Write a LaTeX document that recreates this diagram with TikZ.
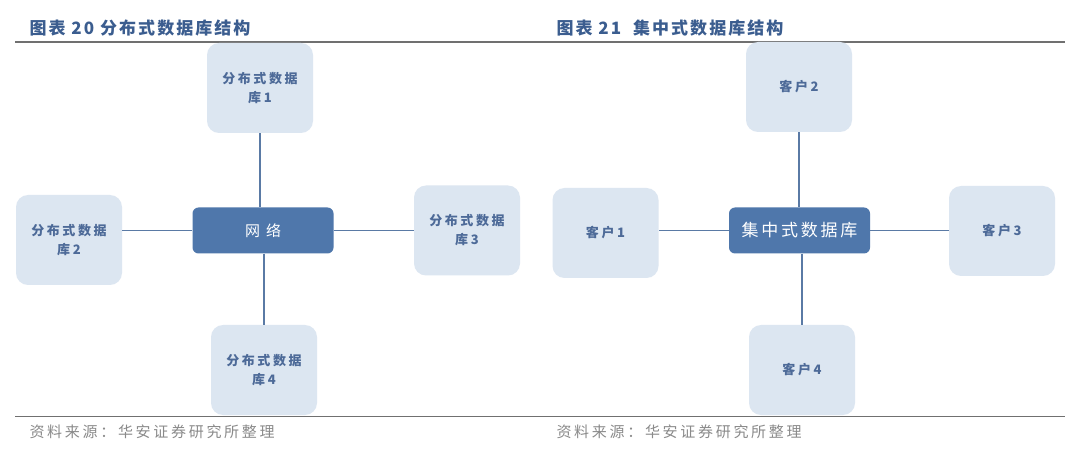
\documentclass[tikz,border=0pt]{standalone}
\usepackage{fontspec}
\setmainfont{Noto Sans CJK SC}
\usepackage{tikz}
\usetikzlibrary{positioning,calc}
\usepackage{xcolor}
\definecolor{boxLight}{HTML}{DCE6F1}
\definecolor{boxDark}{HTML}{4F77AB}
\definecolor{boxText}{HTML}{4D6A98}
\definecolor{titleBlue}{HTML}{3B5D8F}
\definecolor{linkBlue}{HTML}{5A7AA5}
\definecolor{ruleGray}{HTML}{707070}
\definecolor{noteGray}{HTML}{8A8A8A}

\begin{document}
\begin{tikzpicture}[x=1pt,y=-1pt,
  dbbox/.style={fill=boxLight,rounded corners=12pt,minimum width=106pt,minimum height=90pt,align=center,text=boxText,
    font=\bfseries\fontsize{13pt}{19pt}\selectfont\addfontfeatures{LetterSpace=20}},
  hub/.style={fill=boxDark,rounded corners=6pt,minimum width=141pt,minimum height=46pt,text=white},
  link/.style={linkBlue,line width=1.2pt},
  caption/.style={anchor=west,text=titleBlue,font=\bfseries\fontsize{17pt}{19pt}\selectfont\addfontfeatures{LetterSpace=12}},
  source/.style={anchor=west,text=noteGray,font=\fontsize{15pt}{17pt}\selectfont\addfontfeatures{LetterSpace=18}}]
  \useasboundingbox (0,0) rectangle (1080,449);
  \fill[white] (0,0) rectangle (1080,449);

  % titles and rules
  \node[caption] (titleA) at (26,28) {图表 20 分布式数据库结构};
  \node[caption] (titleB) at (553,28) {图表 21\ \ 集中式数据库结构};
  \draw[ruleGray,line width=1.2pt] (15,42) -- (1065,42);
  \draw[ruleGray,line width=1.2pt] (15,416.5) -- (1065,416.5);
  \node[source] (srcA) at (26,432) {资料来源：华安证券研究所整理};
  \node[source] (srcB) at (553,432) {资料来源：华安证券研究所整理};

  % distributed
  \node[hub,font=\fontsize{15pt}{17pt}\selectfont\addfontfeatures{LetterSpace=40}] (net) at (263,230.5) {网络};
  \node[dbbox] (db1) at (260,88) {分布式数据\\库1};
  \node[dbbox] (db2) at (69,240) {分布式数据\\库2};
  \node[dbbox] (db3) at (467,230.5) {分布式数据\\库3};
  \node[dbbox] (db4) at (264,370) {分布式数据\\库4};

  \draw[link] (db1) -- (db1 |- net.north);
  \draw[link] (net) -- (net -| db2.east);
  \draw[link] (net) -- (net -| db3.west);
  \draw[link] (db4 |- net.south) -- (db4);

  % centralised
  \node[hub,font=\fontsize{17pt}{19pt}\selectfont\addfontfeatures{LetterSpace=16}] (cdb) at (799.5,230.5) {集中式数据库};
  \node[dbbox] (cli1) at (605.5,233) {客户1};
  \node[dbbox] (cli2) at (799,87) {客户2};
  \node[dbbox] (cli3) at (1002,231) {客户3};
  \node[dbbox] (cli4) at (802,370) {客户4};

  \draw[link] (cli2) -- (cli2 |- cdb.north);
  \draw[link] (cdb) -- (cdb -| cli1.east);
  \draw[link] (cdb) -- (cdb -| cli3.west);
  \draw[link] (cli4 |- cdb.south) -- (cli4);
\end{tikzpicture}
\end{document}
